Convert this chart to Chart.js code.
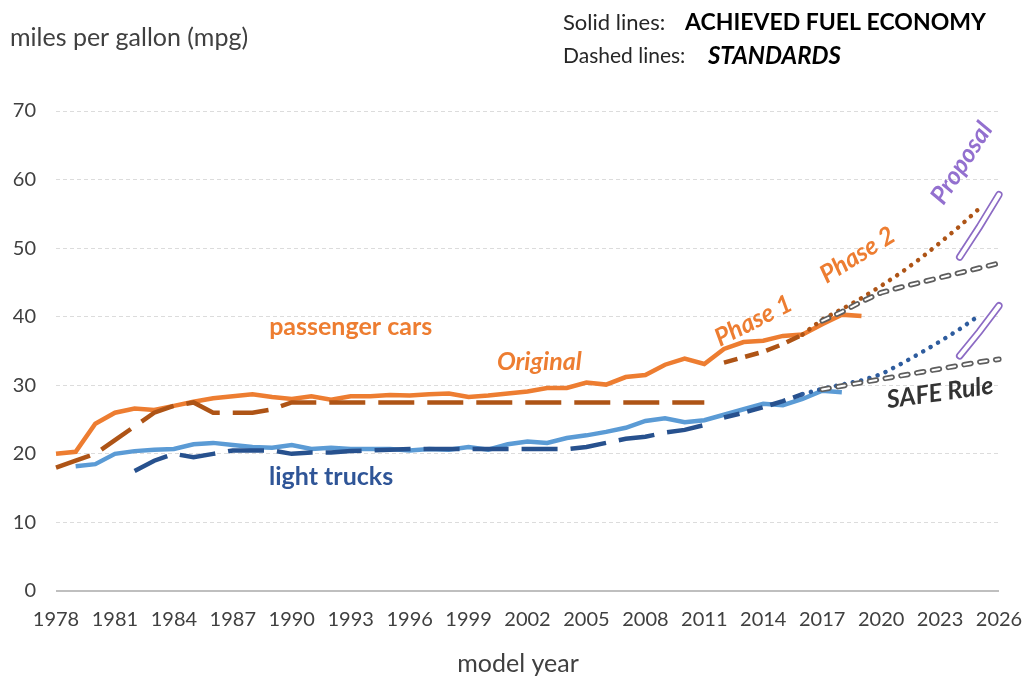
<!DOCTYPE html>
<html>
<head>
<meta charset="utf-8">
<script src="https://cdn.jsdelivr.net/npm/chart.js@4.4.1/dist/chart.umd.min.js"></script>
<style>
  html, body { margin: 0; padding: 0; background: #fff; }
  #fuelChart { display: block; }
</style>
</head>
<body>
<canvas id="fuelChart" width="1026" height="681"></canvas>
<script>
// model years on the category axis
const firstYear = 1978;
const lastYear = 2026;
const years = [];
for (let y = firstYear; y <= lastYear; y++) years.push(String(y));
const tickYears = ['1978', '1981', '1984', '1987', '1990', '1993', '1996', '1999', '2002', '2005', '2008', '2011', '2014', '2017', '2020', '2023', '2026'];

// passenger cars
const carAchieved = [20.0, 20.3, 24.4, 26.0, 26.6, 26.4, 27.0, 27.6, 28.1, 28.4, 28.7, 28.3, 28.0, 28.4, 27.9, 28.4, 28.4, 28.6, 28.5, 28.7, 28.8, 28.3, 28.5, 28.8, 29.1, 29.6, 29.6, 30.4, 30.1, 31.2, 31.5, 33.0, 33.9, 33.1, 35.3, 36.3, 36.5, 37.2, 37.4, 38.9, 40.3, 40.1]; // 1978-2019
const carStdOriginal = [18.0, 19.0, 20.0, 22.0, 24.0, 26.0, 27.0, 27.5, 26.0, 26.0, 26.0, 26.5, 27.5, 27.5, 27.5, 27.5, 27.5, 27.5, 27.5, 27.5, 27.5, 27.5, 27.5, 27.5, 27.5, 27.5, 27.5, 27.5, 27.5, 27.5, 27.5, 27.5, 27.5, 27.5]; // 1978-2011
const carStdPhase1 = [33.3, 34.1, 34.9, 36.0, 37.4]; // 2012-2016
const carStdPhase2 = [37.4, 39.6, 41.1, 42.7, 44.5, 46.4, 48.5, 50.8, 53.2, 55.8]; // 2016-2025
const carSafe = [39.4, 40.7, 42.2, 43.5, 44.3, 45.0, 45.7, 46.4, 47.1, 47.8]; // 2017-2026
const carProposal = [48.7, 53.1, 57.8]; // 2024-2026

// light trucks
const truckAchieved = [18.2, 18.5, 20.0, 20.4, 20.6, 20.7, 21.4, 21.6, 21.3, 21.0, 20.9, 21.3, 20.7, 20.9, 20.7, 20.7, 20.7, 20.5, 20.7, 20.6, 21.0, 20.6, 21.4, 21.8, 21.6, 22.3, 22.7, 23.2, 23.8, 24.8, 25.2, 24.6, 24.9, 25.7, 26.5, 27.3, 27.1, 28.0, 29.2, 29.0]; // 1979-2019
const truckStdOriginal = [17.5, 19.0, 20.0, 19.5, 20.0, 20.5, 20.5, 20.5, 20.0, 20.2, 20.2, 20.4, 20.5, 20.6, 20.7, 20.7, 20.7, 20.7, 20.7, 20.7, 20.7, 20.7, 20.7, 21.0, 21.6, 22.2, 22.5, 23.1, 23.5, 24.2]; // 1982-2011
const truckStdPhase1 = [25.3, 26.0, 26.8, 27.7, 28.7]; // 2012-2016
const truckStdPhase2 = [28.7, 29.5, 30.1, 30.7, 31.6, 33.1, 34.7, 36.4, 38.2, 40.2]; // 2016-2025
const truckSafe = [29.4, 29.9, 30.4, 30.9, 31.4, 31.9, 32.4, 32.9, 33.4, 33.8]; // 2017-2026
const truckProposal = [34.3, 37.8, 41.6]; // 2024-2026

// spread a run of values starting at a given year over the full year axis
function series(startYear, values) {
  return years.map((y, i) => {
    const k = Number(y) - startYear;
    return k >= 0 && k < values.length ? values[k] : null;
  });
}

const ORANGE = '#ED7D31';
const BROWN = '#AE5416';
const BLUE = '#5B9BD5';
const NAVY = '#27518E';
const GRAY = '#5E5E5E';
const PURPLE = '#8C6BC4';
const FONT = 'Lato, "Open Sans", sans-serif';

function solid(data, color, order) {
  return { data, borderColor: color, borderWidth: 4.5, order };
}
function dashed(data, color, dash, order) {
  return { data, borderColor: color, borderWidth: 4.5, borderDash: dash, order };
}
function dotted(data, color, order) {
  return { data, borderColor: color, borderWidth: 4.5, borderDash: [0.1, 8.5], borderCapStyle: 'round', order };
}
// Excel-style double line: thick coloured stroke with a white core on top
function hollow(data, color, width, dash, order) {
  return [
    { data, borderColor: '#ffffff', borderWidth: width - 3.5, borderDash: dash, borderCapStyle: 'round', order },
    { data, borderColor: color, borderWidth: width, borderDash: dash, borderCapStyle: 'round', order: order + 1 }
  ];
}

const datasets = [
  solid(series(1978, carAchieved), ORANGE, 10),
  solid(series(1979, truckAchieved), BLUE, 10),
  dashed(series(1978, carStdOriginal), BROWN, [36, 13], 9),
  dashed(series(2012, carStdPhase1), BROWN, [14, 8], 9),
  dashed(series(1982, truckStdOriginal), NAVY, [36, 13], 9),
  dashed(series(2012, truckStdPhase1), NAVY, [16, 8], 9),
  dotted(series(2016, carStdPhase2), BROWN, 8),
  dotted(series(2016, truckStdPhase2), '#2E5C9E', 8),
  ...hollow(series(2017, carSafe), GRAY, 5.5, [7, 9], 6),
  ...hollow(series(2017, truckSafe), GRAY, 5.5, [7, 9], 6),
  ...hollow(series(2024, carProposal), PURPLE, 7.5, [], 4),
  ...hollow(series(2024, truckProposal), PURPLE, 7.5, [], 4)
];

// text labels placed in data units (year, mpg)
const notes = [
  { text: 'passenger cars', year: 1993.0, mpg: 38.5, angle: 0, color: ORANGE, style: 'bold' },
  { text: 'Original', year: 2002.6, mpg: 33.4, angle: 0, color: ORANGE, style: 'italic bold' },
  { text: 'light trucks', year: 1992.0, mpg: 16.6, angle: 0, color: '#2F5597', style: 'bold' },
  { text: 'Phase 1', year: 2013.5, mpg: 39.4, angle: -27, color: ORANGE, style: 'italic bold' },
  { text: 'Phase 2', year: 2018.8, mpg: 49.0, angle: -32, color: ORANGE, style: 'italic bold' },
  { text: 'Proposal', year: 2024.1, mpg: 62.4, angle: -57, color: '#9370CF', style: 'italic bold' },
  { text: 'SAFE Rule', year: 2023.0, mpg: 28.9, angle: -8, color: '#333333', style: 'italic bold' }
];

const textPlugin = {
  id: 'texts',
  afterDraw(chart) {
    const ctx = chart.ctx;
    const xs = chart.scales.x, ys = chart.scales.y;
    ctx.save();
    ctx.textBaseline = 'middle';

    ctx.fillStyle = '#404040';
    ctx.textAlign = 'left';
    ctx.font = '25px ' + FONT;
    ctx.fillText('miles per gallon (mpg)', 10, 38);

    ctx.fillStyle = '#262626';
    ctx.font = '22px ' + FONT;
    ctx.fillText('Solid lines:', 563, 23);
    ctx.font = '21px ' + FONT;
    ctx.fillText('Dashed lines:', 563, 56);
    ctx.fillStyle = '#000000';
    ctx.font = 'bold 23px ' + FONT;
    ctx.fillText('ACHIEVED FUEL ECONOMY', 685, 23);
    ctx.font = 'italic bold 24px ' + FONT;
    ctx.fillText('STANDARDS', 708, 56);

    ctx.fillStyle = '#404040';
    ctx.textAlign = 'center';
    ctx.font = '25px ' + FONT;
    ctx.fillText('model year', 518, 664);

    notes.forEach(n => {
      const px = xs.getPixelForValue(n.year - firstYear);
      const py = ys.getPixelForValue(n.mpg);
      ctx.save();
      ctx.translate(px, py);
      ctx.rotate(n.angle * Math.PI / 180);
      ctx.fillStyle = n.color;
      ctx.font = n.style + ' 25px ' + FONT;
      ctx.fillText(n.text, 0, 0);
      ctx.restore();
    });
    ctx.restore();
  }
};

new Chart(document.getElementById('fuelChart'), {
  type: 'line',
  data: { labels: years, datasets },
  plugins: [textPlugin],
  options: {
    responsive: false,
    animation: false,
    devicePixelRatio: 1,
    layout: { padding: { top: 111, right: 27, left: 0, bottom: 0 } },
    elements: {
      point: { radius: 0, hoverRadius: 0 },
      line: { tension: 0, fill: false }
    },
    plugins: {
      legend: { display: false },
      tooltip: { enabled: false }
    },
    scales: {
      x: {
        offset: false,
        grid: { display: false },
        border: { display: false },
        afterFit: s => {
          s.height = 90;
          s.paddingLeft = 0;
          s.paddingRight = 0;
        },
        ticks: {
          autoSkip: false,
          maxRotation: 0,
          padding: 9,
          color: '#404040',
          font: { family: FONT, size: 20 },
          callback: function (val) {
            const lab = this.getLabelForValue(val);
            return tickYears.includes(lab) ? lab : null;
          }
        }
      },
      y: {
        min: 0,
        max: 70,
        afterFit: s => { s.width = 56; },
        border: {
          display: false,
          dash: ctx => (ctx.tick && ctx.tick.value === 0 ? [] : [4, 3])
        },
        grid: {
          drawTicks: false,
          color: ctx => (ctx.tick && ctx.tick.value === 0 ? '#BFBFBF' : '#DCDCDC'),
          lineWidth: ctx => (ctx.tick && ctx.tick.value === 0 ? 2 : 1)
        },
        ticks: {
          stepSize: 10,
          padding: 20,
          color: '#404040',
          font: { family: FONT, size: 20 }
        }
      }
    }
  }
});
</script>
</body>
</html>
